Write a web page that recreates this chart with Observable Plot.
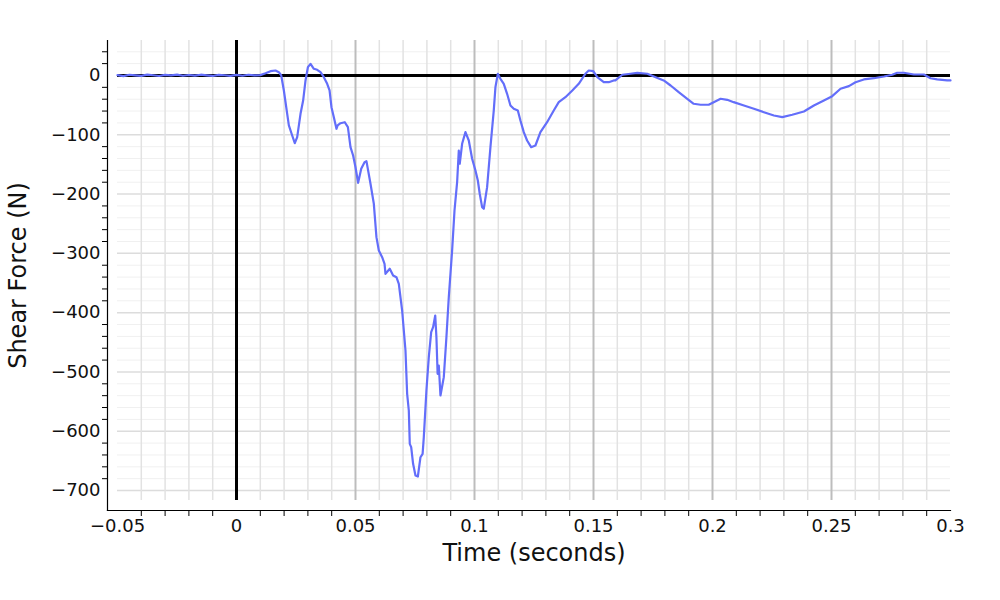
<!DOCTYPE html>
<html>
<head>
<meta charset="utf-8">
<script src="https://cdn.jsdelivr.net/npm/d3@7"></script>
<script src="https://cdn.jsdelivr.net/npm/@observablehq/plot@0.6"></script>
<style>
  body { margin: 0; background: #fff; }
  #chart svg { font-family: "DejaVu Sans", Verdana, sans-serif; }
</style>
</head>
<body>
<div id="chart"></div>
<script>
// Time (s)
const time = [
  -0.05, -0.0475, -0.045, -0.0425, -0.04, -0.0375, -0.035, -0.0325, -0.03, -0.0275,
  -0.025, -0.0225, -0.02, -0.0175, -0.015, -0.0125, -0.01, -0.0075, -0.005, -0.0025,
  0, 0.0025, 0.005, 0.0075, 0.01,
  0.0122, 0.0143, 0.0164, 0.0178, 0.0188, 0.0199, 0.0213, 0.0220, 0.0234, 0.0245,
  0.0255, 0.0269, 0.0280, 0.0290, 0.0300, 0.0311, 0.0325, 0.0339, 0.0353, 0.0367,
  0.0381, 0.0391, 0.0399, 0.0409, 0.0420, 0.0425, 0.0437, 0.0455, 0.0468, 0.0479,
  0.0490, 0.0500, 0.0511, 0.0524, 0.0538, 0.0546, 0.0563, 0.0577, 0.0588, 0.0598,
  0.0612, 0.0622, 0.0626, 0.0644, 0.0658, 0.0672, 0.0682, 0.0696, 0.0710, 0.0717,
  0.0724, 0.0728, 0.0734, 0.0742, 0.0752, 0.0762, 0.0773, 0.0782, 0.0787, 0.0798,
  0.0808, 0.0818, 0.0826, 0.0835, 0.0840, 0.0845, 0.0850, 0.0857, 0.0866, 0.0871,
  0.0882, 0.0892, 0.0906, 0.0916, 0.0927, 0.0934, 0.0938, 0.0948, 0.0962, 0.0976,
  0.0990, 0.1004, 0.1014, 0.1022, 0.1032, 0.1039, 0.1053, 0.1067, 0.1081, 0.1088,
  0.1098, 0.1109, 0.1123, 0.1137, 0.1151, 0.1165, 0.1182, 0.1193, 0.1207, 0.1221,
  0.1238, 0.1256, 0.1277, 0.1305, 0.1333, 0.1354, 0.1382, 0.1411, 0.1438, 0.1466,
  0.1480, 0.1499, 0.1516, 0.1543, 0.1564, 0.1585, 0.1592, 0.1621, 0.1655, 0.1684,
  0.1726, 0.1761, 0.1795, 0.1824, 0.1858, 0.1894, 0.1921, 0.1950, 0.1984, 0.2005,
  0.2034, 0.2062, 0.2089, 0.2132, 0.2174, 0.2216, 0.2258, 0.2293, 0.2335, 0.2384,
  0.2426, 0.2468, 0.2503, 0.2538, 0.2573, 0.2601, 0.2636, 0.2678, 0.2720, 0.2755,
  0.2776, 0.2804, 0.2846, 0.2888, 0.2916, 0.2944, 0.2986, 0.3
];
// Shear force (N)
const force = [
  0.5, -1.0, 1.2, 0.2, -0.6, 1.5, 0.4, -0.9, 1.0, 0.3,
  1.4, -0.5, 0.8, -0.3, 1.3, 0.2, -0.8, 1.1, 0.4, -0.6,
  0.9, -0.4, 1.2, 0.1, 0.6,
  3.9, 7.3, 8.4, 5.6, 0, -25.3, -64.6, -84.3, -101.2, -114.2,
  -104.1, -64.6, -42.2, -8.4, 14.0, 19.7, 11.3, 9.6, 5.6, -2.9,
  -14.0, -25.3, -53.5, -70.3, -89.9, -84.3, -80.5, -78.8, -87.2, -120.9,
  -134.9, -154.7, -181.0, -157.4, -146.2, -144.5, -182.7, -216.4, -272.7, -295.2,
  -306.5, -317.6, -334.5, -326.0, -337.3, -340.2, -351.3, -396.4, -463.8, -536.8,
  -565.0, -621.2, -626.9, -654.9, -674.6, -676.3, -643.8, -638.1, -610.0, -531.3,
  -475.1, -432.9, -424.5, -404.8, -441.4, -503.1, -489.1, -539.7, -520.0, -508.8,
  -441.4, -373.9, -295.2, -227.7, -180.0, -126.5, -148.9, -115.2, -95.6, -109.6,
  -140.5, -160.2, -177.1, -199.5, -222.1, -224.8, -188.4, -120.9, -59.0, -19.7,
  2.9, -5.6, -14.0, -30.9, -50.6, -56.2, -59.0, -75.9, -95.6, -109.6,
  -120.9, -118.1, -95.6, -78.8, -59.0, -45.0, -36.6, -25.3, -14.0, 2.9,
  8.4, 7.3, -2.9, -11.3, -11.3, -8.4, -8.4, 1.2, 2.9, 4.5,
  2.9, -2.9, -8.4, -16.9, -28.2, -39.3, -47.7, -49.4, -49.4, -45.0,
  -39.3, -41.0, -45.0, -50.6, -56.2, -61.9, -67.5, -70.3, -66.3, -60.7,
  -50.6, -42.2, -34.9, -22.4, -18.0, -11.3, -6.7, -4.6, -1.7, 1.2,
  4.6, 4.6, 1.7, 1.7, -4.6, -6.7, -8.4, -8.4
];

const xMajorTicks = [-0.05, 0, 0.05, 0.1, 0.15, 0.2, 0.25, 0.3];
const xTickLabels = ["−0.05", "0", "0.05", "0.1", "0.15", "0.2", "0.25", "0.3"];
const xMinorTicks = [-0.04, -0.03, -0.02, -0.01, 0.01, 0.02, 0.03, 0.04, 0.06, 0.07, 0.08, 0.09,
  0.11, 0.12, 0.13, 0.14, 0.16, 0.17, 0.18, 0.19, 0.21, 0.22, 0.23, 0.24, 0.26, 0.27, 0.28, 0.29];
const xDarkGrid = [0.05, 0.1, 0.15, 0.2, 0.25];

const yMajorTicks = [0, -100, -200, -300, -400, -500, -600, -700];
const yTickLabels = ["0", "−100", "−200", "−300", "−400", "−500", "−600", "−700"];
const yMinorTicks = [40, 20, -20, -40, -60, -80, -120, -140, -160, -180, -220, -240, -260, -280,
  -320, -340, -360, -380, -420, -440, -460, -480, -520, -540, -560, -580, -620, -640, -660, -680];

const xTitle = "Time (seconds)";
const yTitle = "Shear Force (N)";

const xDomain = [-0.05, 0.3];
const yDomain = [-716.8, 59];

const data = time.map((t, i) => ({t, f: force[i]}));
const xLabel = new Map(xMajorTicks.map((v, i) => [v, xTickLabels[i]]));
const yLabel = new Map(yMajorTicks.map((v, i) => [v, yTickLabels[i]]));

const chart = Plot.plot({
  width: 1000,
  height: 600,
  marginLeft: 107,
  marginRight: 50,
  marginTop: 40,
  marginBottom: 90,
  style: {fontFamily: "DejaVu Sans, Verdana, sans-serif", color: "#111", background: "#fff"},
  x: {domain: xDomain, insetLeft: 10, axis: null},
  y: {domain: yDomain, insetBottom: 10, axis: null},
  marks: [
    // grid
    Plot.ruleY(yMinorTicks, {x1: xDomain[0], x2: xDomain[1], stroke: "#f0f0f0", strokeWidth: 1}),
    Plot.ruleY(yMajorTicks.filter(d => d !== 0), {x1: xDomain[0], x2: xDomain[1], stroke: "#dcdcdc", strokeWidth: 1.5}),
    Plot.ruleX(xMinorTicks, {y1: yDomain[0], y2: yDomain[1], stroke: "#e2e2e2", strokeWidth: 1.5}),
    Plot.ruleX(xDarkGrid, {y1: yDomain[0], y2: yDomain[1], stroke: "#bdbdbd", strokeWidth: 2}),
    // zero lines
    Plot.ruleX([0], {y1: yDomain[0], y2: yDomain[1], stroke: "#000", strokeWidth: 3}),
    Plot.ruleY([0], {x1: xDomain[0], x2: xDomain[1], stroke: "#000", strokeWidth: 3}),
    // axis lines
    Plot.frame({anchor: "left", stroke: "#000", strokeWidth: 1.2}),
    Plot.frame({anchor: "bottom", stroke: "#000", strokeWidth: 1.2}),
    // minor tick marks
    Plot.axisX(xMinorTicks, {anchor: "bottom", tickSize: 6, tickFormat: () => "", label: null, stroke: "#000"}),
    Plot.axisY(yMinorTicks, {anchor: "left", tickSize: 5, tickFormat: () => "", label: null, stroke: "#000"}),
    // labels
    Plot.axisX(xMajorTicks, {anchor: "bottom", tickSize: 0, tickPadding: 9, tickFormat: d => xLabel.get(d), fontSize: 18, label: null, fill: "#111"}),
    Plot.axisY(yMajorTicks, {anchor: "left", tickSize: 0, tickPadding: 7, tickFormat: d => yLabel.get(d), fontSize: 18, label: null, fill: "#111"}),
    // data
    Plot.line(data, {x: "t", y: "f", stroke: "#636efa", strokeWidth: 2.2}),
    // titles
    Plot.text([xTitle], {frameAnchor: "bottom", lineAnchor: "middle", textAnchor: "middle", dx: 5, dy: 43, fontSize: 24, fill: "#111"}),
    Plot.text([yTitle], {frameAnchor: "left", lineAnchor: "middle", textAnchor: "middle", rotate: -90, dx: -89, fontSize: 24, fill: "#111"})
  ]
});
document.getElementById("chart").appendChild(chart);
</script>
</body>
</html>
